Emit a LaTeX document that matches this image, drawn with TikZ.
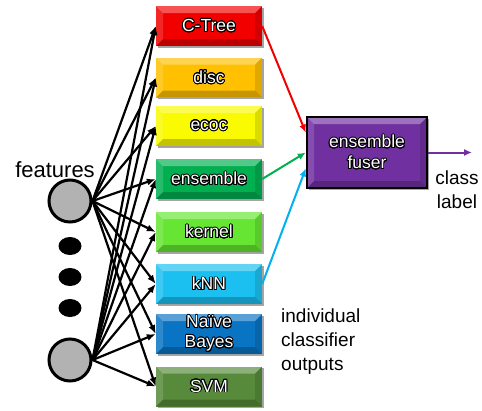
\documentclass[tikz,border=0pt]{standalone}
\usepackage{fontspec}
\setmainfont{Liberation Sans}
\usepackage{contour}
\contourlength{0.85pt}
\contournumber{24}
\usetikzlibrary{arrows.meta,shadows,shapes.geometric}
\definecolor{cRed}{HTML}{F20000}
\definecolor{cOrange}{HTML}{FFC000}
\definecolor{cYellow}{HTML}{FAFA00}
\definecolor{cGreen}{HTML}{00B050}
\definecolor{cLime}{HTML}{66E633}
\definecolor{cCyan}{HTML}{1CC0F0}
\definecolor{cBlue}{HTML}{0A74C4}
\definecolor{cOlive}{HTML}{578A3A}
\definecolor{cPurple}{HTML}{7030A0}
\definecolor{cGray}{HTML}{B2B2B2}
\definecolor{aGreen}{HTML}{00B050}
\definecolor{aBlue}{HTML}{00B0F0}
\def\ppb{path picture bounding box}
\tikzset{
  bevel/.style={path picture={
    \fill[white,opacity=.32] (\ppb.north west) -- (\ppb.north east) -- ([shift={(-7pt,-7pt)}]\ppb.north east) -- ([shift={(7pt,-7pt)}]\ppb.north west) -- cycle;
    \fill[white,opacity=.15] (\ppb.north west) -- ([shift={(7pt,-7pt)}]\ppb.north west) -- ([shift={(7pt,7pt)}]\ppb.south west) -- (\ppb.south west) -- cycle;
    \fill[black,opacity=.22] (\ppb.south west) -- (\ppb.south east) -- ([shift={(-7pt,7pt)}]\ppb.south east) -- ([shift={(7pt,7pt)}]\ppb.south west) -- cycle;
    \fill[black,opacity=.12] (\ppb.north east) -- (\ppb.south east) -- ([shift={(-7pt,7pt)}]\ppb.south east) -- ([shift={(-7pt,-7pt)}]\ppb.north east) -- cycle;
  }},
  clbox/.style={rectangle, minimum width=106pt, minimum height=40pt, inner sep=0pt,
    fill=#1, text=white, font=\fontsize{17.5}{20}\selectfont, align=center, bevel,
    drop shadow={shadow xshift=1.5pt, shadow yshift=-1.5pt, opacity=0.35, fill=black}},
  fuserbox/.style={rectangle, minimum width=120pt, minimum height=71pt, inner sep=0pt,
    fill=cPurple, draw=black, line width=2.5pt, text=white, font=\fontsize{17.5}{21}\selectfont,
    align=center, bevel,
    drop shadow={shadow xshift=1.5pt, shadow yshift=-1.5pt, opacity=0.35, fill=black}},
  featnode/.style={circle, minimum size=42pt, inner sep=0pt, fill=cGray, draw=black, line width=3pt},
  dotnode/.style={ellipse, minimum width=23pt, minimum height=18pt, inner sep=0pt, fill=black},
  featarrow/.style={-{Latex[length=9pt,width=7pt]}, line width=2.2pt, black},
  outarrow/.style={-{Latex[length=8pt,width=7pt]}, line width=2pt, draw=#1},
  lbl/.style={inner sep=0pt, font=\fontsize{19}{24}\selectfont, text=black},
}
\begin{document}
\begin{tikzpicture}[x=1pt,y=-1pt]
\useasboundingbox (0,0) rectangle (482,410);
% classifier boxes
\node[clbox=cRed]    (ctree) at (209,26)    {\contour{black}{C-Tree}};
\node[clbox=cOrange] (disc)  at (209,77.5)  {\contour{black}{disc}};
\node[clbox=cYellow] (ecoc)  at (209,126)   {\contour{black}{ecoc}};
\node[clbox=cGreen]  (ens)   at (209,179)   {\contour{black}{ensemble}};
\node[clbox=cLime]   (kern)  at (209,232)   {\contour{black}{kernel}};
\node[clbox=cCyan]   (knn)   at (209,284)   {\contour{black}{kNN}};
\node[clbox=cBlue]   (nb)    at (209,334)   {\contour{black}{Naïve}\\\contour{black}{Bayes}};
\node[clbox=cOlive]  (svm)   at (209,386.5) {\contour{black}{SVM}};
% fuser
\node[fuserbox] (fuser) at (367,152.5) {\contour{black}{ensemble}\\\contour{black}{fuser}};
% feature nodes
\node[featnode] (c1) at (70,201) {};
\node[featnode] (c2) at (70,360) {};
\node[dotnode] (d1) at (70,246) {};
\node[dotnode] (d2) at (70,277) {};
\node[dotnode] (d3) at (70,308) {};
% labels
\node[lbl, font=\fontsize{22}{26}\selectfont, anchor=base] (feat) at (55,177) {features};
\node[lbl, align=center] (cls) at (457,190) {class\\label};
\node[lbl, align=left, anchor=west] (ind) at (281,342) {individual\\classifier\\outputs};
% feature arrows
\foreach \b in {ctree,disc,ecoc,ens,kern,knn,nb,svm}{
  \draw[featarrow] (c1.east) -- (\b.west);
  \draw[featarrow] (c2.east) -- (\b.west);
}
% outputs to fuser
\draw[outarrow=cRed]   (ctree.east) -- ([yshift=20pt]fuser.west);
\draw[outarrow=aGreen] (ens.east)   -- (fuser.west);
\draw[outarrow=aBlue]  (knn.east)   -- ([yshift=-16pt]fuser.west);
\coordinate (out) at (472,152.5);
\draw[outarrow=cPurple] (fuser.east) -- (out);
\end{tikzpicture}
\end{document}
